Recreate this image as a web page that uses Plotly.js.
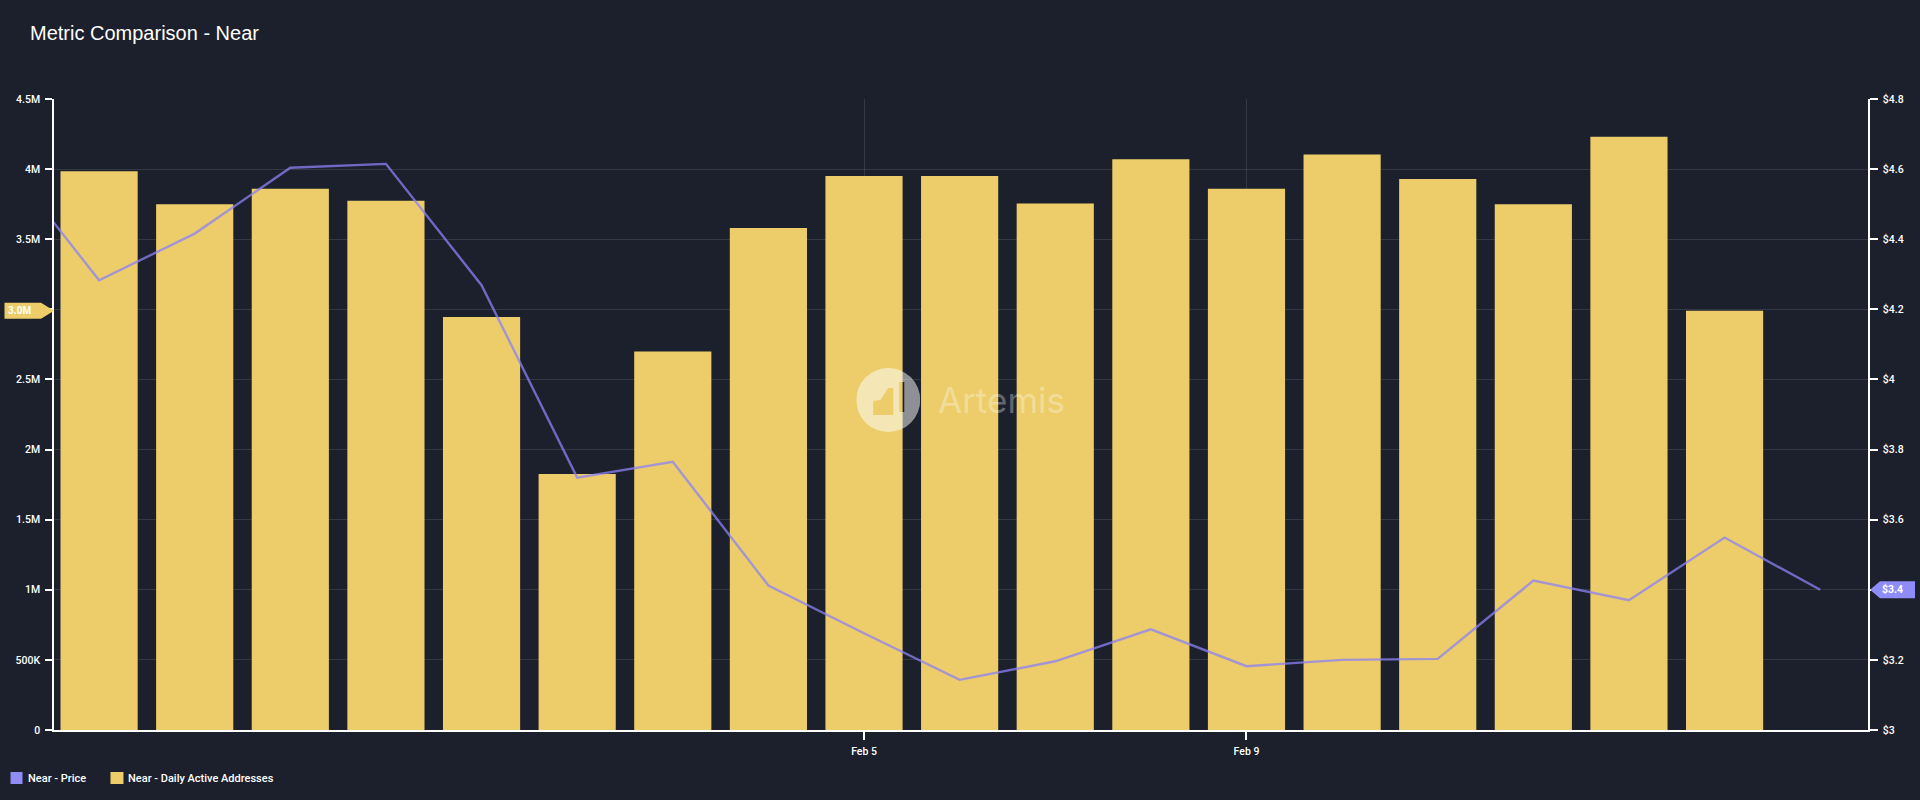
<!DOCTYPE html>
<html>
<head>
<meta charset="utf-8">
<script src="https://cdn.plot.ly/plotly-3.0.1.min.js"></script>
<style>html,body{margin:0;padding:0;background:#1c202c;overflow:hidden}#chart{width:1920px;height:800px}</style>
</head>
<body>
<div id="chart"></div>
<script>
const chartTitle = "Metric Comparison - Near";
const priceName = "Near - Price";
const addressName = "Near - Daily Active Addresses";

const priceDates = ["2025-01-27","2025-01-28","2025-01-29","2025-01-30","2025-01-31","2025-02-01","2025-02-02","2025-02-03","2025-02-04","2025-02-05","2025-02-06","2025-02-07","2025-02-08","2025-02-09","2025-02-10","2025-02-11","2025-02-12","2025-02-13","2025-02-14","2025-02-15"];
const priceValues = [4.63,4.283,4.416,4.604,4.615,4.269,3.72,3.765,3.412,3.276,3.143,3.196,3.287,3.182,3.2,3.203,3.426,3.37,3.549,3.4];

const addressDates = ["2025-01-28","2025-01-29","2025-01-30","2025-01-31","2025-02-01","2025-02-02","2025-02-03","2025-02-04","2025-02-05","2025-02-06","2025-02-07","2025-02-08","2025-02-09","2025-02-10","2025-02-11","2025-02-12","2025-02-13","2025-02-14"];
const addressValues = [3985000,3750000,3860000,3775000,2945000,1825000,2700000,3580000,3950000,3950000,3755000,4070000,3860000,4105000,3930000,3750000,4230000,2990000];

const xTickVals = ["2025-02-05","2025-02-09"];
const xTickText = ["Feb 5","Feb 9"];
const leftTickVals = [0,500000,1000000,1500000,2000000,2500000,3000000,3500000,4000000,4500000];
const leftTickText = ["0","500K","1M","1.5M","2M","2.5M","","3.5M","4M","4.5M"];
const rightTickVals = [3,3.2,3.4,3.6,3.8,4,4.2,4.4,4.6,4.8];
const rightTickText = ["$3","$3.2","","$3.6","$3.8","$4","$4.2","$4.4","$4.6","$4.8"];

const BG = "#1c202c", GOLD = "#ECCD6A", PURPLE = "#8F8BF7";
const W = 1920, H = 800;
const m = {l:53.5, r:52, t:99, b:70};
const tickFont = {family:"Roboto, sans-serif", size:10.5, color:"#ffffff", weight:500};
const legendFont = {family:"Roboto, sans-serif", size:11, color:"#ffffff", weight:500};

const logoSvg = "<svg xmlns='http://www.w3.org/2000/svg' width='64' height='64' viewBox='0 0 64 64'>" +
  "<path fill='white' fill-rule='evenodd' d='M32 0a32 32 0 1 0 0 64a32 32 0 1 0 0-64z M17 47V33l7-1l8-12h5V47z M43 14h5V44h-5z'/></svg>";

const traces = [
  {type:"bar", name:addressName, x:addressDates, y:addressValues, marker:{color:GOLD, line:{width:0}}, showlegend:false, hoverinfo:"x+y"},
  {type:"scatter", mode:"lines", name:priceName, x:priceDates, y:priceValues, yaxis:"y2",
   line:{color:"rgba(140,130,245,0.75)", width:2.4}, showlegend:false, hoverinfo:"x+y"}
];

const plotW = W - m.l - m.r, plotH = H - m.t - m.b;
const fx = x => (x - m.l) / plotW;
const fy = y => (H - m.b - y) / plotH;

const layout = {
  width:W, height:H, autosize:false,
  paper_bgcolor:BG, plot_bgcolor:BG, margin:m, bargap:0.193, showlegend:false,
  title:{text:chartTitle, x:30/W, xanchor:"left", y:1-33/H, yanchor:"middle", font:{family:"Liberation Sans, Arial, sans-serif", size:20, color:"#ffffff"}},
  xaxis:{type:"date", range:["2025-01-27 12:41","2025-02-15 12:00"], tickmode:"array", tickvals:xTickVals, ticktext:xTickText,
    showgrid:true, gridcolor:"rgba(255,255,255,0.11)", gridwidth:1, ticks:"outside", ticklen:8, tickwidth:1.5, tickcolor:"#ffffff", ticklabelstandoff:2,
    showline:true, linecolor:"#ffffff", linewidth:2, tickfont:tickFont, zeroline:false},
  yaxis:{range:[0,4500000], tickmode:"array", tickvals:leftTickVals, ticktext:leftTickText,
    showgrid:true, gridcolor:"rgba(255,255,255,0.11)", gridwidth:1, ticks:"outside", ticklen:7, tickwidth:1.5, tickcolor:"#ffffff", ticklabelstandoff:3,
    showline:true, linecolor:"#ffffff", linewidth:1.5, tickfont:tickFont, zeroline:false},
  yaxis2:{range:[3,4.8], overlaying:"y", side:"right", tickmode:"array", tickvals:rightTickVals, ticktext:rightTickText,
    showgrid:false, ticks:"outside", ticklen:8, tickwidth:1.5, tickcolor:"#ffffff", ticklabelstandoff:3,
    showline:true, linecolor:"#ffffff", linewidth:1.5, tickfont:tickFont, zeroline:false},
  images:[{source:"data:image/svg+xml;utf8,"+encodeURIComponent(logoSvg), xref:"paper", yref:"paper",
    x:fx(856), y:fy(368), sizex:64/plotW, sizey:64/plotH,
    xanchor:"left", yanchor:"top", sizing:"stretch", opacity:0.5, layer:"above"}],
  shapes:[
    {type:"rect", xref:"paper", yref:"paper", x0:fx(10), x1:fx(22), y0:fy(784), y1:fy(772), fillcolor:PURPLE, line:{width:0}},
    {type:"rect", xref:"paper", yref:"paper", x0:fx(110), x1:fx(123), y0:fy(784), y1:fy(772), fillcolor:GOLD, line:{width:0}},
    {type:"path", xref:"paper", yref:"y", xsizemode:"pixel", ysizemode:"pixel", xanchor:0, yanchor:addressValues[addressValues.length-1],
     path:"M -49.5 -8 L -13 -8 L 0 0 L -13 8 L -49.5 8 Z", fillcolor:GOLD, line:{width:0}},
    {type:"path", xref:"paper", yref:"y2", xsizemode:"pixel", ysizemode:"pixel", xanchor:1, yanchor:priceValues[priceValues.length-1],
     path:"M 2 0 L 12 -8.5 L 47 -8.5 L 47 8.5 L 12 8.5 Z", fillcolor:PURPLE, line:{width:0}}
  ],
  annotations:[
    {text:priceName, xref:"paper", yref:"paper", x:fx(25), y:fy(778), xanchor:"left", yanchor:"middle", showarrow:false, font:legendFont},
    {text:addressName, xref:"paper", yref:"paper", x:fx(126), y:fy(778), xanchor:"left", yanchor:"middle", showarrow:false, font:legendFont},
    {text:"3.0M", xref:"paper", yref:"y", x:fx(5), y:addressValues[addressValues.length-1], xanchor:"left", yanchor:"middle", showarrow:false, font:{family:"Roboto, sans-serif", size:10, color:"#ffffff", weight:700}},
    {text:"$3.4", xref:"paper", yref:"y2", x:fx(1893), y:priceValues[priceValues.length-1], xanchor:"center", yanchor:"middle", showarrow:false, font:{family:"Roboto, sans-serif", size:10.5, color:"#ffffff", weight:700}},
    {text:"Artemis", xref:"paper", yref:"paper", x:fx(1001), y:fy(400), xanchor:"center", yanchor:"middle", showarrow:false, font:{family:"Inter, Liberation Sans, sans-serif", size:35, color:"rgba(255,255,255,0.32)"}}
  ]
};

Plotly.newPlot("chart", traces, layout, {displayModeBar:false, responsive:false});
</script>
</body>
</html>
